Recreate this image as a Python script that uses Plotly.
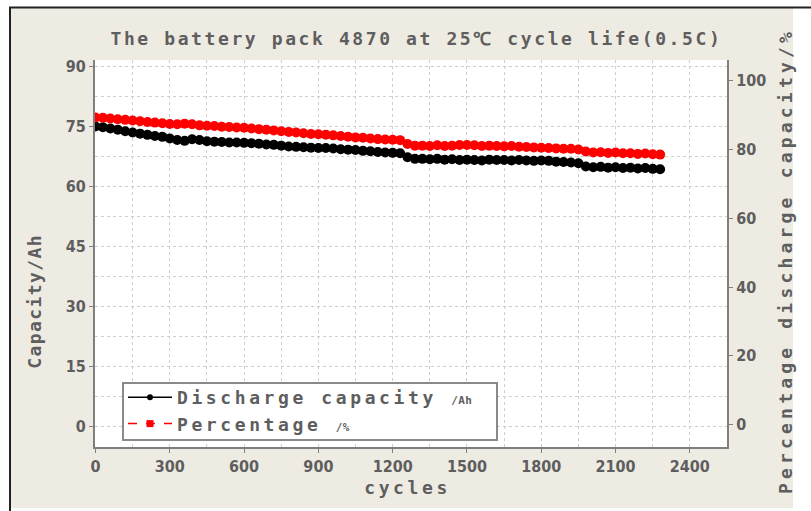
import plotly.graph_objects as go

cycles = list(range(0, 2281, 30))

capacity_ah = [
    75.0, 74.8, 74.5, 74.2, 73.8, 73.5, 73.2, 72.9, 72.6, 72.4,
    72.0, 71.6, 71.4, 71.8, 71.6, 71.3, 71.2, 71.1, 71.0, 71.0,
    70.9, 70.8, 70.7, 70.5, 70.4, 70.2, 70.0, 69.9, 69.8, 69.7,
    69.6, 69.6, 69.5, 69.3, 69.2, 69.1, 68.9, 68.8, 68.6, 68.5,
    68.4, 68.3, 67.3, 66.9, 66.9, 66.8, 66.9, 66.7, 66.8, 66.6,
    66.7, 66.6, 66.5, 66.7, 66.6, 66.6, 66.5, 66.6, 66.5, 66.4,
    66.5, 66.4, 66.2, 66.1, 66.0, 65.8, 65.0, 64.8, 64.9, 64.7,
    64.8, 64.6, 64.7, 64.5, 64.6, 64.4, 64.3,
]

percentage = [
    89.3, 89.2, 89.0, 88.8, 88.6, 88.4, 88.2, 88.0, 87.8, 87.6,
    87.4, 87.3, 87.5, 87.3, 87.0, 86.9, 86.8, 86.6, 86.5, 86.4,
    86.3, 86.1, 85.9, 85.7, 85.5, 85.3, 85.1, 84.9, 84.7, 84.5,
    84.4, 84.3, 84.1, 83.9, 83.7, 83.5, 83.4, 83.2, 83.0, 82.9,
    82.8, 82.7, 81.6, 81.1, 81.1, 81.0, 81.2, 81.0, 81.1, 81.3,
    81.3, 81.2, 81.0, 81.1, 81.0, 80.9, 81.0, 80.8, 80.7, 80.6,
    80.5, 80.4, 80.3, 80.2, 80.2, 80.0, 79.4, 79.1, 79.2, 79.0,
    79.1, 78.9, 78.9, 78.7, 78.8, 78.6, 78.5,
]

x_ticks = [0, 300, 600, 900, 1200, 1500, 1800, 2100, 2400]
left_ticks = [0, 15, 30, 45, 60, 75, 90]
right_ticks = [0, 20, 40, 60, 80, 100]

W, H = 811, 511
L, R, T, B = 95, 727, 60, 447
pw, ph = R - L, B - T


def px(x):
    return (x - L) / pw


def py(y):
    return (B - y) / ph


BEIGE = "#eeebe3"
TXT = "#5e5e5e"
MONO = "DejaVu Sans Mono, monospace"
NARROW = "Liberation Sans Narrow, DejaVu Sans Condensed, sans-serif"
GRID = "#cfcfcf"

fig = go.Figure()
# data bands
fig.add_trace(go.Scatter(
    x=cycles, y=capacity_ah, mode="lines+markers", showlegend=False,
    line=dict(color="black", width=3),
    marker=dict(color="black", size=10, symbol="circle"), yaxis="y",
))
fig.add_trace(go.Scatter(
    x=cycles, y=percentage, mode="lines+markers", showlegend=False,
    line=dict(color="#ff0000", width=3),
    marker=dict(color="#ff0000", size=10, symbol="circle"), yaxis="y2",
))
# legend entries
fig.add_trace(go.Scatter(
    x=[None], y=[None], name="Discharge capacity <span style='font-size:11px'>/Ah</span>",
    mode="lines+markers", line=dict(color="black", width=1.5),
    marker=dict(color="black", size=6, symbol="circle"), yaxis="y",
))
fig.add_trace(go.Scatter(
    x=[None], y=[None], name="Percentage <span style='font-size:11px'>/%</span>",
    mode="lines+markers", line=dict(color="#ff0000", width=1.5, dash="dash"),
    marker=dict(color="#ff0000", size=7, symbol="square"), yaxis="y2",
))

axis_common = dict(
    showline=True, linecolor="#7f7f7f", linewidth=2, mirror=False,
    ticks="outside", ticklen=4, tickcolor="#7f7f7f", tickwidth=1,
    tickfont=dict(family=NARROW, size=16, color=TXT, weight="bold"),
    zeroline=False,
)

fig.update_layout(
    width=W, height=H,
    margin=dict(l=L, r=W - R, t=T, b=H - B),
    paper_bgcolor=BEIGE, plot_bgcolor="white",
    showlegend=True,
    legend=dict(
        x=px(123), y=py(379), xanchor="left", yanchor="top",
        bgcolor="rgba(0,0,0,0)", borderwidth=0,
        font=dict(family=MONO, size=18, color=TXT, weight="bold"),
        itemwidth=44, tracegroupgap=0,
    ),
    xaxis=dict(
        range=[-2, 2550], tickvals=x_ticks,
        showgrid=True, gridcolor=GRID, griddash="dot", gridwidth=1,
        minor=dict(dtick=150, tick0=0, showgrid=True, gridcolor=GRID, griddash="dot", ticks=""),
        **axis_common,
    ),
    yaxis=dict(
        range=[-5.1, 91.6], tickvals=left_ticks,
        showgrid=True, gridcolor=GRID, griddash="dot", gridwidth=1,
        minor=dict(dtick=7.5, tick0=0, showgrid=True, gridcolor=GRID, griddash="dot", ticks=""),
        **axis_common,
    ),
    yaxis2=dict(
        range=[-6.5, 106], tickvals=right_ticks, overlaying="y", side="right",
        showgrid=False,
        **axis_common,
    ),
)

# legend frame
fig.add_shape(type="rect", xref="paper", yref="paper", layer="above",
              x0=px(123), x1=px(497), y0=py(440), y1=py(383),
              fillcolor="white", line=dict(color="#8a8a8a", width=2))

# outer screenshot frame
fig.add_shape(type="rect", xref="paper", yref="paper",
              x0=px(0), x1=px(W), y0=py(0), y1=py(7), fillcolor="white", line_width=0, layer="below")
fig.add_shape(type="rect", xref="paper", yref="paper",
              x0=px(0), x1=px(9), y0=py(0), y1=py(H), fillcolor="white", line_width=0, layer="below")
fig.add_shape(type="rect", xref="paper", yref="paper",
              x0=px(793), x1=px(W), y0=py(7), y1=py(H), fillcolor="white", line_width=0, layer="below")
fig.add_shape(type="rect", xref="paper", yref="paper",
              x0=px(0), x1=px(W), y0=py(508), y1=py(H), fillcolor="white", line_width=0, layer="below")
fig.add_shape(type="line", xref="paper", yref="paper",
              x0=px(9), x1=px(W), y0=py(7.5), y1=py(7.5), line=dict(color="#222", width=2))
fig.add_shape(type="line", xref="paper", yref="paper",
              x0=px(10), x1=px(10), y0=py(7), y1=py(H), line=dict(color="#222", width=2))

# titles
fig.add_annotation(text="The battery pack 4870 at 25℃ cycle life(0.5C)", xref="paper", yref="paper",
                   x=px(416), y=py(38), showarrow=False, xanchor="center", yanchor="middle",
                   font=dict(family=MONO, size=18, color=TXT, weight="bold"))
fig.add_annotation(text="cycles", xref="paper", yref="paper",
                   x=px(407), y=py(487), showarrow=False, xanchor="center", yanchor="middle",
                   font=dict(family=MONO, size=18, color=TXT, weight="bold"))
fig.add_annotation(text="Capacity/Ah", xref="paper", yref="paper", textangle=-90,
                   x=px(34), y=py(302), showarrow=False, xanchor="center", yanchor="middle",
                   font=dict(family=MONO, size=18, color=TXT, weight="bold"))
fig.add_annotation(text="Percentage discharge capacity/%", xref="paper", yref="paper", textangle=-90,
                   x=px(785), y=py(261), showarrow=False, xanchor="center", yanchor="middle",
                   font=dict(family=MONO, size=18, color=TXT, weight="bold"))

post = """
document.body.style.margin='0';document.body.style.padding='0';document.body.style.overflow='hidden';
var sp=['2.6px','3.6px','1.4px','4.2px'];
var ann=document.querySelectorAll('.annotation-text');
for(var i=0;i<ann.length&&i<sp.length;i++){ann[i].style.letterSpacing=sp[i];}
var lt=document.querySelectorAll('.legendtext');
for(var j=0;j<lt.length;j++){lt[j].style.letterSpacing='3.6px';}
var ts=document.querySelectorAll('.legendtext tspan');
for(var n=0;n<ts.length;n++){ts[n].style.letterSpacing='0.3px';}
var sb=document.querySelectorAll('.legend .scrollbox, .legend [clip-path]');
for(var k=0;k<sb.length;k++){sb[k].removeAttribute('clip-path');}
var lg=document.querySelectorAll('.legend');
for(var m=0;m<lg.length;m++){lg[m].removeAttribute('clip-path');lg[m].style.overflow='visible';}
"""

fig.write_html("out.html", config={"displayModeBar": False}, post_script=post)
